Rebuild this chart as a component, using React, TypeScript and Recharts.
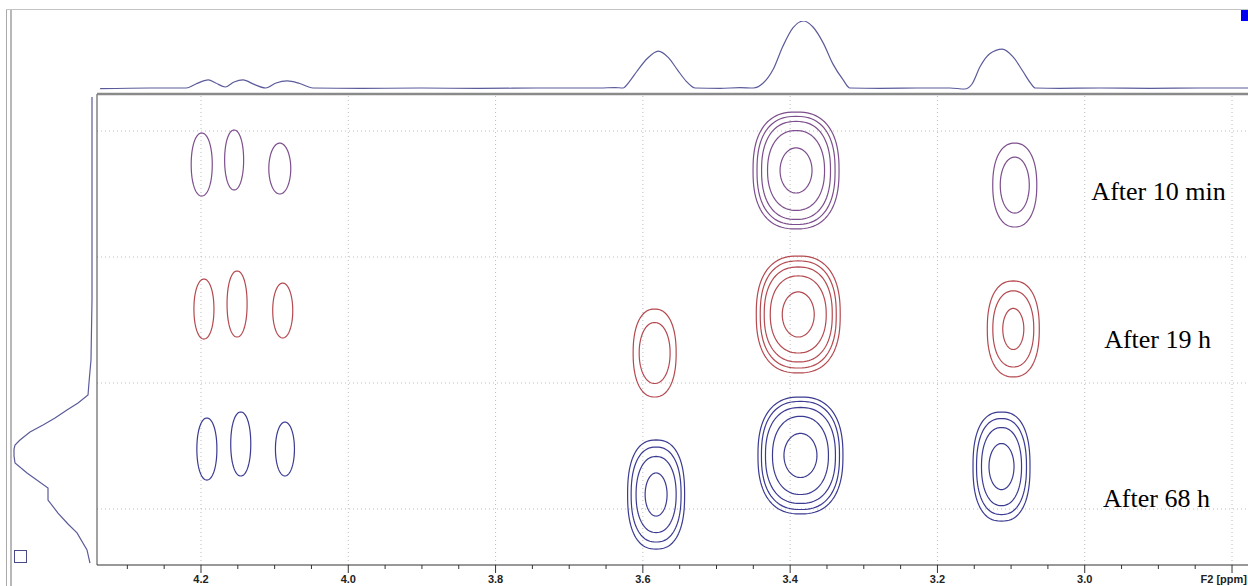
import React from 'react';
import { ScatterChart, Scatter, LineChart, Line, XAxis, YAxis, ReferenceLine } from 'recharts';

// F2 axis in ppm (drawn high -> low), F1 axis as row index (top -> bottom)
const X_LEFT = 4.3412;
const X_RIGHT = 2.7783;
const F1_TOP = 0.7063;
const F1_BOTTOM = 4.4444;

const MAJOR_TICKS = [4.2, 4.0, 3.8, 3.6, 3.4, 3.2, 3.0, 2.8];
const MAJOR_LABELS = ['4.2', '4.0', '3.8', '3.6', '3.4', '3.2', '3.0', 'F2 [ppm]'];
const ALL_TICKS = [
  4.3, 4.25, 4.2, 4.15, 4.1, 4.05, 4.0, 3.95, 3.9, 3.85, 3.8, 3.75, 3.7, 3.65, 3.6, 3.55,
  3.5, 3.45, 3.4, 3.35, 3.3, 3.25, 3.2, 3.15, 3.1, 3.05, 3.0, 2.95, 2.9, 2.85, 2.8,
];
const F1_GRID = [1, 2, 3, 4];

// 1D projection on top (F2)
const PROJ_F2_PPM = [
  4.337, 4.269, 4.22, 4.207, 4.19, 4.18, 4.167, 4.155, 4.143, 4.127, 4.112, 4.098, 4.083, 4.066,
  4.048, 3.984, 3.903, 3.821, 3.74, 3.658, 3.638, 3.627, 3.618, 3.608, 3.594, 3.579, 3.565, 3.553,
  3.541, 3.529, 3.495, 3.468, 3.45, 3.437, 3.423, 3.41, 3.396, 3.382, 3.369, 3.355, 3.342, 3.328,
  3.319, 3.278, 3.224, 3.183, 3.163, 3.153, 3.142, 3.129, 3.112, 3.097, 3.084, 3.074, 3.067, 3.034,
  2.979, 2.911, 2.843, 2.778,
];
const PROJ_F2_INT = [
  -1, 0, 0, 6, 12, 7.5, 1.5, 9, 12, 5, 0, 7.5, 10.5, 6.7,
  0, -0.7, 0, -0.7, 0, 0, 0.7, 0, 10, 25, 44, 55, 45, 27,
  10, 0, -0.5, 0.5, 0, 7, 28, 62, 90, 100, 91, 67, 36, 12,
  0, -0.5, 0, 0, -1.5, 6, 32, 51, 58, 46, 25, 8, 0, -0.5,
  0, -0.5, 0, 0,
];

// 1D projection on the left (F1)
const PROJ_F1_POS = [
  0.73, 1.548, 2.341, 2.817, 2.992, 3.095, 3.159, 3.214, 3.278, 3.333, 3.389, 3.452, 3.492, 3.524,
  3.579, 3.635, 3.714, 3.833, 3.929, 4.032, 4.119, 4.19, 4.325, 4.429,
];
const PROJ_F1_INT = [
  0, 0, 0, 1.3, 3.8, 5.1, 17.9, 32.1, 47.4, 62.8, 79.5, 92.3, 98.7, 100,
  100, 98.7, 83.3, 56.4, 56.4, 43.6, 30.8, 19.2, 6.4, 2.6,
];

// contour rings: centre (ppm, f1), half width (ppm), half height (f1 units)
const CONTOURS_10MIN = [
  { ppm: 4.199, f1: 1.266, w: 0.0143, h: 0.25 },
  { ppm: 4.155, f1: 1.23, w: 0.0129, h: 0.238 },
  { ppm: 4.093, f1: 1.298, w: 0.0149, h: 0.202 },
  { ppm: 3.392, f1: 1.313, w: 0.0584, h: 0.464 },
  { ppm: 3.392, f1: 1.313, w: 0.053, h: 0.429 },
  { ppm: 3.392, f1: 1.313, w: 0.0468, h: 0.389 },
  { ppm: 3.392, f1: 1.313, w: 0.0387, h: 0.317 },
  { ppm: 3.392, f1: 1.313, w: 0.0217, h: 0.179 },
  { ppm: 3.095, f1: 1.429, w: 0.0299, h: 0.333 },
  { ppm: 3.095, f1: 1.429, w: 0.0197, h: 0.222 },
];
const CONTOURS_19H = [
  { ppm: 4.196, f1: 2.413, w: 0.0136, h: 0.238 },
  { ppm: 4.151, f1: 2.373, w: 0.0136, h: 0.262 },
  { ppm: 4.089, f1: 2.425, w: 0.0136, h: 0.218 },
  { ppm: 3.584, f1: 2.762, w: 0.0292, h: 0.349 },
  { ppm: 3.584, f1: 2.762, w: 0.021, h: 0.242 },
  { ppm: 3.389, f1: 2.456, w: 0.057, h: 0.464 },
  { ppm: 3.389, f1: 2.456, w: 0.0516, h: 0.425 },
  { ppm: 3.389, f1: 2.456, w: 0.0462, h: 0.377 },
  { ppm: 3.389, f1: 2.456, w: 0.038, h: 0.306 },
  { ppm: 3.389, f1: 2.456, w: 0.0217, h: 0.179 },
  { ppm: 3.097, f1: 2.571, w: 0.0353, h: 0.381 },
  { ppm: 3.097, f1: 2.571, w: 0.0278, h: 0.302 },
  { ppm: 3.097, f1: 2.571, w: 0.0143, h: 0.163 },
];
const CONTOURS_68H = [
  { ppm: 4.192, f1: 3.524, w: 0.0136, h: 0.246 },
  { ppm: 4.146, f1: 3.484, w: 0.0136, h: 0.254 },
  { ppm: 4.086, f1: 3.524, w: 0.0129, h: 0.214 },
  { ppm: 3.582, f1: 3.885, w: 0.0387, h: 0.433 },
  { ppm: 3.582, f1: 3.885, w: 0.0339, h: 0.377 },
  { ppm: 3.582, f1: 3.885, w: 0.0272, h: 0.302 },
  { ppm: 3.582, f1: 3.885, w: 0.0149, h: 0.171 },
  { ppm: 3.386, f1: 3.575, w: 0.0577, h: 0.464 },
  { ppm: 3.386, f1: 3.575, w: 0.053, h: 0.429 },
  { ppm: 3.386, f1: 3.575, w: 0.0475, h: 0.381 },
  { ppm: 3.386, f1: 3.575, w: 0.038, h: 0.31 },
  { ppm: 3.386, f1: 3.575, w: 0.0224, h: 0.175 },
  { ppm: 3.113, f1: 3.663, w: 0.0387, h: 0.433 },
  { ppm: 3.113, f1: 3.663, w: 0.0339, h: 0.381 },
  { ppm: 3.113, f1: 3.663, w: 0.0272, h: 0.31 },
  { ppm: 3.113, f1: 3.663, w: 0.017, h: 0.183 },
];

const LABELS = [
  { ppm: 2.8998, f1: 1.548, text: 'After 10 min' },
  { ppm: 2.9011, f1: 2.722, text: 'After 19 h' },
  { ppm: 2.9025, f1: 3.984, text: 'After 68 h' },
];

const W = 1248;
const H = 586;
const PLOT_LEFT = 97;
const PLOT_TOP = 94;
const AXIS_H = 21;
const PX_PER_PPM = (W - PLOT_LEFT) / (X_LEFT - X_RIGHT);
const PX_PER_F1 = (H - PLOT_TOP - AXIS_H) / (F1_BOTTOM - F1_TOP);

const projF2 = PROJ_F2_PPM.map((ppm, i) => ({ ppm, int: PROJ_F2_INT[i] }));
const projF1 = PROJ_F1_POS.map((f1, i) => ({ f1, int: PROJ_F1_INT[i] }));

// rounded-square look of the wider contour levels
function ringPath(cx: number, cy: number, rx: number, ry: number) {
  const n = 2 + 0.45 * Math.max(0, Math.min(1, (ry - 25) / 30));
  const pts: string[] = [];
  for (let i = 0; i < 96; i++) {
    const t = (i / 96) * Math.PI * 2;
    const c = Math.cos(t);
    const s = Math.sin(t);
    const px = cx + rx * Math.sign(c) * Math.pow(Math.abs(c), 2 / n);
    const py = cy + ry * Math.sign(s) * Math.pow(Math.abs(s), 2 / n);
    pts.push(px.toFixed(2) + ',' + py.toFixed(2));
  }
  return 'M' + pts.join('L') + 'Z';
}

const contourShape = (color: string) => (props: any) => {
  const { cx, cy, payload } = props;
  if (cx == null || cy == null) return <g />;
  return (
    <path
      d={ringPath(cx, cy, payload.w * PX_PER_PPM, payload.h * PX_PER_F1)}
      fill="none"
      stroke={color}
      strokeWidth={1.2}
    />
  );
};

const labelShape = (props: any) => {
  const { cx, cy, payload } = props;
  return (
    <text x={cx} y={cy} textAnchor="middle" fontSize={26} fontFamily="'Liberation Serif', 'Times New Roman', serif" fill="#000">
      {payload.text}
    </text>
  );
};

const F2Tick = (props: any) => {
  const { x, y, payload } = props;
  const idx = MAJOR_TICKS.findIndex((v) => Math.abs(v - payload.value) < 1e-6);
  const major = idx >= 0;
  // the last label (axis name) sits at the right edge, keep it inside
  const last = idx === MAJOR_TICKS.length - 1;
  return (
    <g>
      <line x1={x} x2={x} y1={y} y2={y + (major ? 8 : 4)} stroke="#333" />
      {major && (
        <text
          x={last ? W - 1 : x}
          y={y + 18}
          textAnchor={last ? 'end' : 'middle'}
          fontSize={11}
          fontWeight="bold"
          fontFamily="'Liberation Sans', Arial, sans-serif"
          fill="#222"
        >
          {MAJOR_LABELS[idx]}
        </text>
      )}
    </g>
  );
};

const PROJ_COLOR = '#5b5b9b';

export default function App() {
  return (
    <div style={{ position: 'absolute', left: 0, top: 0, width: W, height: H, background: '#fff', overflow: 'hidden' }}>
      {/* window chrome */}
      <div style={{ position: 'absolute', left: 6, top: 9, width: 1, height: H, background: '#a9a9a9' }} />
      <div style={{ position: 'absolute', left: 10, top: 9, width: 2, height: H, background: '#b8b8b8' }} />
      <div style={{ position: 'absolute', left: 6, top: 9, width: W, height: 1, background: '#c4c4c4' }} />
      <div style={{ position: 'absolute', left: 14, top: 550, width: 11, height: 11, border: '1px solid #4a4a8a' }} />
      <div style={{ position: 'absolute', left: 1241, top: 10, width: 7, height: 11, background: '#0000f0' }} />

      {/* F2 projection */}
      <div style={{ position: 'absolute', left: 0, top: 0 }}>
        <LineChart width={W} height={100} data={projF2} margin={{ top: 21, right: 0, bottom: 8.65, left: PLOT_LEFT }}>
          <XAxis type="number" dataKey="ppm" domain={[X_RIGHT, X_LEFT]} reversed hide allowDataOverflow />
          <YAxis type="number" domain={[-5, 100]} hide allowDataOverflow />
          <Line type="monotone" dataKey="int" stroke={PROJ_COLOR} strokeWidth={1.2} dot={false} isAnimationActive={false} />
        </LineChart>
      </div>

      {/* F1 projection */}
      <div style={{ position: 'absolute', left: 0, top: 0 }}>
        <ScatterChart width={100} height={H} margin={{ top: PLOT_TOP, right: 8, bottom: AXIS_H, left: 14 }}>
          <XAxis type="number" dataKey="int" domain={[0, 100]} reversed hide />
          <YAxis type="number" dataKey="f1" domain={[F1_TOP, F1_BOTTOM]} reversed hide />
          <Scatter data={projF1} line={{ stroke: PROJ_COLOR, strokeWidth: 1.2 }} lineType="joint" shape={() => <g />} isAnimationActive={false} />
        </ScatterChart>
      </div>

      {/* 2D contour plot */}
      <div style={{ position: 'absolute', left: 0, top: 0 }}>
        <ScatterChart width={W} height={H} margin={{ top: PLOT_TOP, right: 0, bottom: 0, left: PLOT_LEFT }}>
          <XAxis
            type="number"
            dataKey="ppm"
            domain={[X_RIGHT, X_LEFT]}
            reversed
            allowDataOverflow
            ticks={ALL_TICKS}
            interval={0}
            height={AXIS_H}
            tickSize={0}
            tickMargin={0}
            tickLine={false}
            tick={<F2Tick />}
            axisLine={{ stroke: '#333' }}
          />
          <YAxis type="number" dataKey="f1" domain={[F1_TOP, F1_BOTTOM]} reversed hide allowDataOverflow />
          {MAJOR_TICKS.map((v) => (
            <ReferenceLine key={'gx' + v} x={v} stroke="#bdbdbd" strokeDasharray="1 3" />
          ))}
          {F1_GRID.map((v) => (
            <ReferenceLine key={'gy' + v} y={v} stroke="#bdbdbd" strokeDasharray="1 3" />
          ))}
          <ReferenceLine x={X_LEFT} stroke="#444" />
          <ReferenceLine y={F1_TOP} stroke="#8a8a8a" strokeWidth={2.5} />
          <Scatter data={CONTOURS_10MIN} shape={contourShape('#7d4f8d')} isAnimationActive={false} />
          <Scatter data={CONTOURS_19H} shape={contourShape('#b44a50')} isAnimationActive={false} />
          <Scatter data={CONTOURS_68H} shape={contourShape('#3b3b92')} isAnimationActive={false} />
          <Scatter data={LABELS} shape={labelShape} isAnimationActive={false} />
        </ScatterChart>
      </div>
    </div>
  );
}
